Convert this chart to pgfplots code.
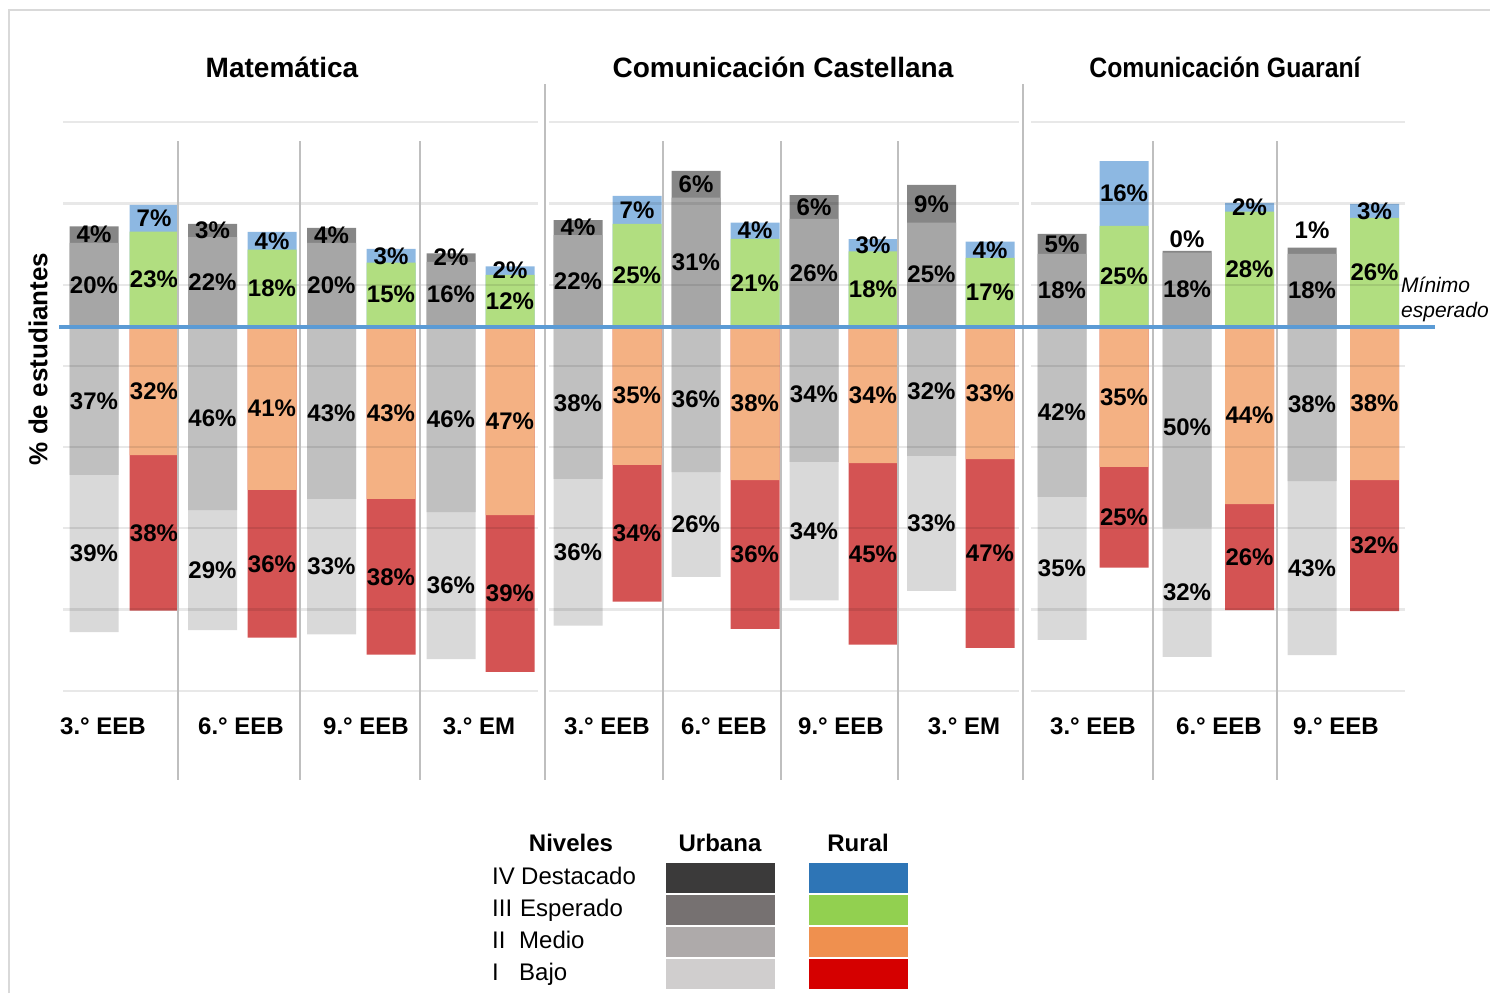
\documentclass[border=0pt]{standalone}
\usepackage{pgfplots}
\pgfplotsset{compat=1.18}
\usepackage{pgfplotstable}
\usepackage{graphicx}
\usepackage{fontspec}
\setmainfont{Liberation Sans}

\definecolor{uIV}{HTML}{868686}
\definecolor{uIII}{HTML}{A6A6A6}
\definecolor{uII}{HTML}{C0C0C0}
\definecolor{uI}{HTML}{D9D9D9}
\definecolor{rIV}{HTML}{8DB8E2}
\definecolor{rIII}{HTML}{B1DE80}
\definecolor{rII}{HTML}{F4B183}
\definecolor{rI}{HTML}{D45353}
\definecolor{lu4}{HTML}{3B3A3A}
\definecolor{lu3}{HTML}{767171}
\definecolor{lu2}{HTML}{AEAAAA}
\definecolor{lu1}{HTML}{D0CECE}
\definecolor{lr4}{HTML}{2E75B6}
\definecolor{lr3}{HTML}{92D050}
\definecolor{lr2}{HTML}{EF904F}
\definecolor{lr1}{HTML}{D50000}
\definecolor{baseblue}{HTML}{5B9BD5}
\definecolor{sepgray}{HTML}{BFBFBF}
\definecolor{bordergray}{HTML}{D9D9D9}

\newcommand\labfont{\fontsize{24}{24}\selectfont\bfseries}
\newcommand\titfont{\fontsize{28}{28}\selectfont\bfseries}
\newcommand\catfont{\fontsize{24}{24}\selectfont\bfseries}
\newcommand\legfont{\fontsize{24}{24}\selectfont}
\newcommand\ylfont{\fontsize{26}{26}\selectfont\bfseries}
\newcommand\minfont{\fontsize{21}{21}\selectfont\itshape}

% x = bar centre (px), IV..I = bar heights (%), lIV..lI = printed labels, dIV = extra shift of IV label
\pgfplotstableread{
x      IV   III   II    I     lIV lIII lII lI dIV
94     4.1  20.7  36.6  38.8  4   20   37  39 0
212.5  3.3  22.1  45.3  29.6  3   22   46  29 0
331.5  3.7  20.7  42.5  33.5  4   20   43  33 0
451    2.1  16.0  45.8  36.3  2   16   46  36 0
578    3.7  22.6  37.6  36.2  4   22   38  36 0
696    6.6  31.9  35.9  25.9  6   31   36  26 0
814    5.9  26.6  33.4  34.2  6   26   34  34 0
931.5  9.3  25.7  31.9  33.3  9   25   32  33 0
1062   4.9  18.0  42.0  35.3  5   18   42  35 0
1187   0.4  18.3  49.5  32.0  0   18   50  32 3.15
1312   1.5  18.0  38.1  43.0  1   18   38  43 4.95
}\urbana

\pgfplotstableread{
x      IV   III   II    I     lIV lIII lII lI dIV
154    6.6  23.5  31.7  38.4  7   23   32  38 0
272    4.4  19.0  40.3  36.5  4   18   41  36 0
391    3.4  15.8  42.5  38.5  3   15   43  38 0
510    2.1  12.8  46.5  38.7  2   12   47  39 0
637    6.9  25.4  34.1  33.8  7   25   35  34 0
755    4.0  21.7  37.9  36.7  4   21   38  36 0
873    3.0  18.6  33.7  44.8  3   18   34  45 0
990    4.0  17.0  32.7  46.6  4   17   33  47 0
1124   16.0 24.9  34.6  24.9  16  25   35  25 0
1249.5 2.2  28.4  43.8  26.2  2   28   44  26 0
1374.5 3.4  26.9  37.9  32.3  3   26   38  32 0
}\rural

\begin{document}
\begin{tikzpicture}
\begin{axis}[
  width=1490pt, height=993pt, scale only axis,
  xmin=0, xmax=1490, ymin=-164.52, ymax=80.67,
  hide axis, clip=false,
  bar width=49,
  every node near coord/.append style={anchor=center, font=\labfont, text=black, inner sep=0pt},
]
% ---- Urbana bars
\addplot[ybar, bar shift=0pt, fill=uIV, draw=none] table[x=x, y expr=\thisrow{III}+\thisrow{IV}] {\urbana};
\addplot[ybar, bar shift=0pt, fill=uIII, draw=none] table[x=x, y=III] {\urbana};
\addplot[ybar, bar shift=0pt, fill=uI, draw=none] table[x=x, y expr=-\thisrow{II}-\thisrow{I}] {\urbana};
\addplot[ybar, bar shift=0pt, fill=uII, draw=none] table[x=x, y expr=-\thisrow{II}] {\urbana};
% ---- Rural bars
\addplot[ybar, bar shift=0pt, fill=rIV, draw=none] table[x=x, y expr=\thisrow{III}+\thisrow{IV}] {\rural};
\addplot[ybar, bar shift=0pt, fill=rIII, draw=none] table[x=x, y=III] {\rural};
\addplot[ybar, bar shift=0pt, fill=rI, draw=none] table[x=x, y expr=-\thisrow{II}-\thisrow{I}] {\rural};
\addplot[ybar, bar shift=0pt, fill=rII, draw=none] table[x=x, y expr=-\thisrow{II}] {\rural};
% ---- gridlines
\pgfplotsinvokeforeach{50.47,30.42,10.37,-9.68,-29.73,-49.78,-69.83,-89.88}{
  \draw[black, opacity=0.09, line width=2.2pt] (axis cs:63,#1) -- (axis cs:538,#1);
  \draw[black, opacity=0.09, line width=2.2pt] (axis cs:549,#1) -- (axis cs:1019,#1);
  \draw[black, opacity=0.09, line width=2.2pt] (axis cs:1031,#1) -- (axis cs:1405,#1);
}
% ---- labels
\addplot[only marks, mark=none, nodes near coords={\pgfplotspointmeta\%}, point meta=explicit symbolic]
  table[x=x, y expr=\thisrow{III}+0.5*\thisrow{IV}+\thisrow{dIV}, meta=lIV] {\urbana};
\addplot[only marks, mark=none, nodes near coords={\pgfplotspointmeta\%}, point meta=explicit symbolic]
  table[x=x, y expr=0.5*\thisrow{III}, meta=lIII] {\urbana};
\addplot[only marks, mark=none, nodes near coords={\pgfplotspointmeta\%}, point meta=explicit symbolic]
  table[x=x, y expr=-0.5*\thisrow{II}, meta=lII] {\urbana};
\addplot[only marks, mark=none, nodes near coords={\pgfplotspointmeta\%}, point meta=explicit symbolic]
  table[x=x, y expr=-\thisrow{II}-0.5*\thisrow{I}, meta=lI] {\urbana};
\addplot[only marks, mark=none, nodes near coords={\pgfplotspointmeta\%}, point meta=explicit symbolic]
  table[x=x, y expr=\thisrow{III}+0.5*\thisrow{IV}+\thisrow{dIV}, meta=lIV] {\rural};
\addplot[only marks, mark=none, nodes near coords={\pgfplotspointmeta\%}, point meta=explicit symbolic]
  table[x=x, y expr=0.5*\thisrow{III}, meta=lIII] {\rural};
\addplot[only marks, mark=none, nodes near coords={\pgfplotspointmeta\%}, point meta=explicit symbolic]
  table[x=x, y expr=-0.5*\thisrow{II}, meta=lII] {\rural};
\addplot[only marks, mark=none, nodes near coords={\pgfplotspointmeta\%}, point meta=explicit symbolic]
  table[x=x, y expr=-\thisrow{II}-0.5*\thisrow{I}, meta=lI] {\rural};
\end{axis}

% ---- annotation layer in pixel coordinates
\begin{axis}[
  width=1490pt, height=993pt, scale only axis,
  xmin=0, xmax=1490, ymin=0, ymax=993, y dir=reverse,
  hide axis, clip=false,
]
% border
\draw[bordergray, line width=1.5pt] (axis cs:9,993) -- (axis cs:9,10) -- (axis cs:1490,10);
% separators
\draw[sepgray, line width=1.6pt] (axis cs:545,84) -- (axis cs:545,780);
\draw[sepgray, line width=1.6pt] (axis cs:1023,84) -- (axis cs:1023,780);
\pgfplotsinvokeforeach{178,300,420,663,781,898,1153,1277}{
  \draw[sepgray, line width=1.6pt] (axis cs:#1,141) -- (axis cs:#1,780);
}
% baseline
\draw[baseblue, line width=4pt] (axis cs:59,326.7) -- (axis cs:1435,326.7);
\node[anchor=base west, font=\minfont, inner sep=0pt] at (axis cs:1401,292) {Mínimo};
\node[anchor=base west, font=\minfont, inner sep=0pt] at (axis cs:1401,317) {esperado};
% titles
\node[anchor=base, font=\titfont, inner sep=0pt] at (axis cs:282,77) {Matemática};
\node[anchor=base, font=\titfont, inner sep=0pt] at (axis cs:783,77) {Comunicación Castellana};
\node[anchor=base, font=\titfont, inner sep=0pt] at (axis cs:1225,77) {\scalebox{0.885}[1]{Comunicación Guaraní}};
% y label
\node[rotate=90, font=\ylfont, inner sep=0pt] at (axis cs:38,359) {\% de estudiantes};
% categories
\node[anchor=base, font=\catfont, inner sep=0pt] at (axis cs:103,734) {3.° EEB};
\node[anchor=base, font=\catfont, inner sep=0pt] at (axis cs:241,734) {6.° EEB};
\node[anchor=base, font=\catfont, inner sep=0pt] at (axis cs:366,734) {9.° EEB};
\node[anchor=base, font=\catfont, inner sep=0pt] at (axis cs:479,734) {3.° EM};
\node[anchor=base, font=\catfont, inner sep=0pt] at (axis cs:607,734) {3.° EEB};
\node[anchor=base, font=\catfont, inner sep=0pt] at (axis cs:724,734) {6.° EEB};
\node[anchor=base, font=\catfont, inner sep=0pt] at (axis cs:841,734) {9.° EEB};
\node[anchor=base, font=\catfont, inner sep=0pt] at (axis cs:964,734) {3.° EM};
\node[anchor=base, font=\catfont, inner sep=0pt] at (axis cs:1093,734) {3.° EEB};
\node[anchor=base, font=\catfont, inner sep=0pt] at (axis cs:1219,734) {6.° EEB};
\node[anchor=base, font=\catfont, inner sep=0pt] at (axis cs:1336,734) {9.° EEB};
% legend
\node[anchor=base, font=\labfont, inner sep=0pt] at (axis cs:571,851) {Niveles};
\node[anchor=base, font=\labfont, inner sep=0pt] at (axis cs:720,851) {Urbana};
\node[anchor=base, font=\labfont, inner sep=0pt] at (axis cs:858,851) {Rural};
\node[anchor=base west, font=\legfont, inner sep=0pt] at (axis cs:492,884.3) {IV};
\node[anchor=base west, font=\legfont, inner sep=0pt] at (axis cs:521,884.3) {Destacado};
\node[anchor=base west, font=\legfont, inner sep=0pt] at (axis cs:492,916.7) {III};
\node[anchor=base west, font=\legfont, inner sep=0pt] at (axis cs:520,916.7) {Esperado};
\node[anchor=base west, font=\legfont, inner sep=0pt] at (axis cs:492,948.7) {II};
\node[anchor=base west, font=\legfont, inner sep=0pt] at (axis cs:519,948.7) {Medio};
\node[anchor=base west, font=\legfont, inner sep=0pt] at (axis cs:492,980.7) {I};
\node[anchor=base west, font=\legfont, inner sep=0pt] at (axis cs:519,980.7) {Bajo};
\fill[lu4] (axis cs:666,863) rectangle (axis cs:775,892.7);
\fill[lu3] (axis cs:666,895) rectangle (axis cs:775,924.7);
\fill[lu2] (axis cs:666,927) rectangle (axis cs:775,956.7);
\fill[lu1] (axis cs:666,959) rectangle (axis cs:775,988.7);
\fill[lr4] (axis cs:809,863) rectangle (axis cs:908,892.7);
\fill[lr3] (axis cs:809,895) rectangle (axis cs:908,924.7);
\fill[lr2] (axis cs:809,927) rectangle (axis cs:908,956.7);
\fill[lr1] (axis cs:809,959) rectangle (axis cs:908,988.7);
\end{axis}
\pgfresetboundingbox
\useasboundingbox (0,0) rectangle (1490pt,993pt);
\end{tikzpicture}
\end{document}
